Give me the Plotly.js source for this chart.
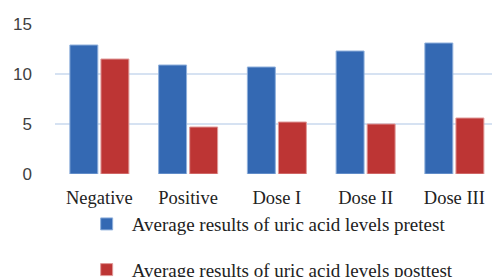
<!DOCTYPE html>
<html>
<head>
<meta charset="utf-8">
<script src="https://cdn.plot.ly/plotly-3.0.1.min.js"></script>
<style>html,body{margin:0;padding:0;background:#fff;}#chart{width:492px;height:277px;}</style>
</head>
<body>
<div id="chart"></div>
<script>
const categories = ["Negative", "Positive", "Dose I", "Dose II", "Dose III"];
const pretest = [12.9, 10.9, 10.7, 12.3, 13.1];
const posttest = [11.5, 4.7, 5.2, 5.0, 5.6];
const seriesNames = ["Average results of uric acid levels pretest", "Average results of uric acid levels posttest"];
const yTicks = [0, 5, 10, 15];

const traces = [
  {type: "bar", x: categories, y: pretest, name: seriesNames[0], legendgroup: "a",
   marker: {color: "#3469b3", line: {color: "#8fb0dc", width: 1}}},
  {type: "bar", x: categories, y: posttest, name: seriesNames[1], legendgroup: "b",
   marker: {color: "#bd3534", line: {color: "#e09a99", width: 1}}}
];

const layout = {
  width: 492, height: 277,
  margin: {l: 55, r: 0, t: 24, b: 103, autoexpand: false},
  paper_bgcolor: "#fff", plot_bgcolor: "#fff",
  barmode: "group", bargap: 0.30, bargroupgap: 0.1,
  showlegend: true,
  legend: {orientation: "v", x: 0.061, xanchor: "left", y: -0.207, yanchor: "top",
           bgcolor: "rgba(0,0,0,0)",
           font: {family: "Liberation Serif", size: 19, color: "#222"},
           traceorder: "grouped", tracegroupgap: 18, itemwidth: 40},
  xaxis: {range: [-0.5, 4.424], showgrid: false, zeroline: false, showline: false,
          ticklabelstandoff: 10,
          tickfont: {family: "Liberation Serif", size: 18.5, color: "#222"}, ticks: ""},
  yaxis: {range: [0, 15], tickvals: yTicks, ticktext: yTicks.map(String),
          showgrid: true, gridcolor: "#d6e2f2", gridwidth: 2, zeroline: false, showline: false,
          ticks: "", ticklabelstandoff: 22,
          tickfont: {family: "Liberation Sans", size: 17, color: "#404040"}}
};

Plotly.newPlot("chart", traces, layout, {staticPlot: true, displayModeBar: false});
</script>
</body>
</html>
